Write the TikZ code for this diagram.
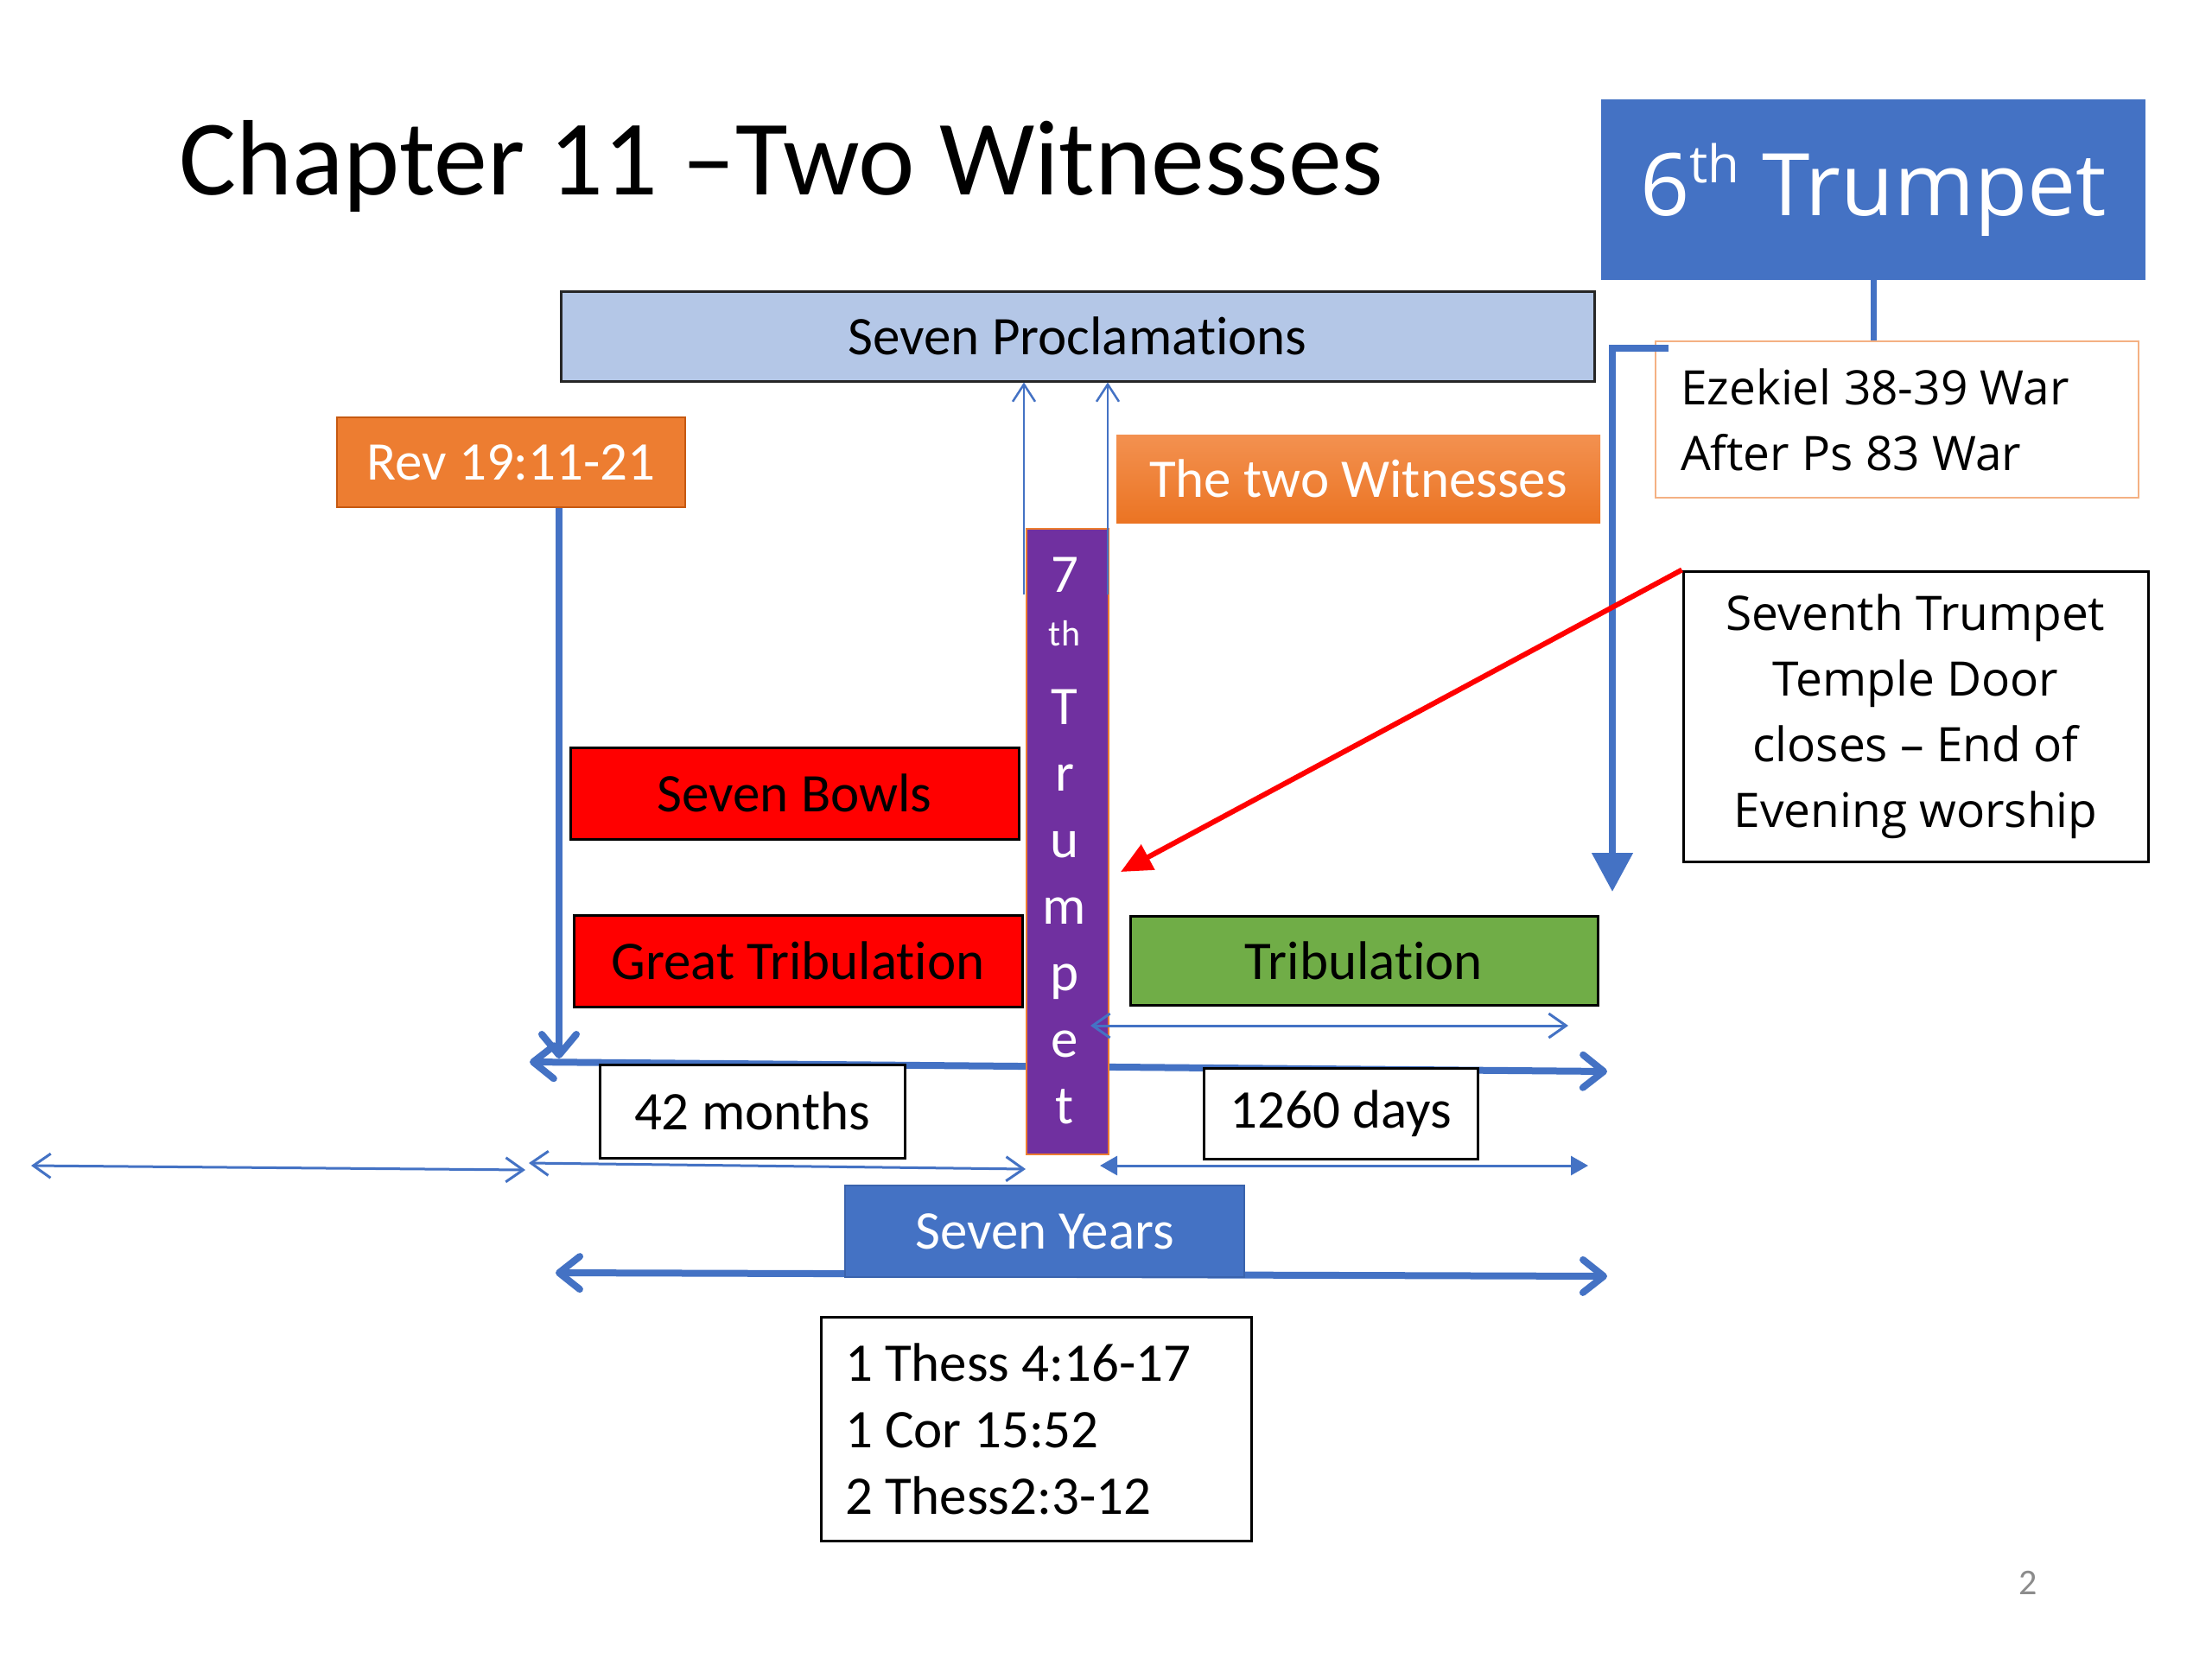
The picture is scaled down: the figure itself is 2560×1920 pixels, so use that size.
\documentclass[tikz,border=0pt]{standalone}
\usepackage{fontspec}
\setmainfont{Carlito}[Ligatures={TeX,NoCommon}]
\newfontfamily\osans{Open Sans}[Ligatures={TeX,NoCommon}]
\usetikzlibrary{arrows.meta}
\definecolor{bl}{HTML}{4472C4}
\definecolor{bldark}{HTML}{3A63AD}
\definecolor{proclfill}{HTML}{B4C7E7}
\definecolor{orfill}{HTML}{ED7D31}
\definecolor{ordraw}{HTML}{C65911}
\definecolor{ortop}{HTML}{F39150}
\definecolor{orbot}{HTML}{EB7423}
\definecolor{ezdraw}{HTML}{F4B183}
\definecolor{purp}{HTML}{7030A0}
\definecolor{grn}{HTML}{70AD47}
\definecolor{pgray}{HTML}{8C8C8C}
\newcommand\mainsz{\fontsize{63}{77}\selectfont}
\newcommand\ossz{\osans\fontsize{55}{76}\selectfont}
\newcommand\natsp{\spaceskip=0pt\xspaceskip=0pt\relax}
\pgfdeclarelayer{bg}
\pgfsetlayers{bg,main}
\begin{document}
\begin{tikzpicture}[x=1pt,y=-1pt,
  box/.style={rectangle, inner sep=0pt, line width=3pt, draw=black, font=\mainsz, align=center},
  tarr/.style={draw=bl, line width=8pt, arrows={Straight Barb[length=24pt,width=38pt,round]-Straight Barb[length=24pt,width=38pt,round]}},
  narr/.style={draw=bl, line width=3pt, arrows={Straight Barb[length=20pt,width=28pt]-Straight Barb[length=20pt,width=28pt]}},
  farr/.style={draw=bl, line width=3pt, arrows={Triangle[length=20pt,width=22pt]-Triangle[length=20pt,width=22pt]}},
  uparr/.style={draw=bl, line width=2.5pt, arrows={-Straight Barb[length=20pt,width=26pt]}},
  letter/.style={anchor=base, text=white, font=\mainsz, inner sep=0pt}]
\useasboundingbox (0,0) rectangle (2560,1920);
\begin{pgfonlayer}{bg}
\fill[white] (0,0) rectangle (2560,1920);
\end{pgfonlayer}

% title
\node[anchor=base west, inner sep=0pt, font=\fontsize{124}{140}\selectfont] (title) at (207,225) {Chapter 11 –Two Witnesses};

% 6th trumpet and Ezekiel
\node[fill=bl, minimum width=630, minimum height=209, inner sep=0pt, text=white,
      font=\osans\fontsize{100}{115}\selectfont] (trump6) at (2168,219.5)
      {6\raisebox{38pt}{\fontsize{60}{62}\selectfont th} Trumpet};
\node[draw=ezdraw, line width=2.5pt, fill=white, minimum width=559, minimum height=181,
      inner xsep=29pt, inner ysep=0pt, text width=501pt, align=left, font=\ossz] (ezek) at (2195.5,485.5)
      {\natsp Ezekiel 38-39 War\\After Ps 83 War};
\draw[bl, line width=7pt] (trump6.south) -- (trump6.south |- ezek.north);
\coordinate (brk) at (1931,403);
\coordinate (brkend) at (1866,1032);
\draw[bl, line width=8pt, -{Triangle[length=45pt,width=46pt]}] (brk) -| (brkend);

% seventh trumpet text box
\node[draw=black, line width=3pt, fill=white, minimum width=538, minimum height=336, inner sep=0pt,
      align=center, font=\ossz] (sev7) at (2217,829)
      {Seventh Trumpet\\Temple Door\\closes – End of\\Evening worship};

% upper boxes
\node[box, fill=proclfill, draw=black!85, minimum width=1196, minimum height=104] (procl) at (1247,389) {Seven Proclamations};
\node[box, fill=orfill, draw=ordraw, line width=2.5pt, text=white, minimum width=403, minimum height=104] (rev) at (591.5,535) {Rev 19:11-21};
\node[box, draw=none, top color=ortop, bottom color=orbot, text=white, minimum width=560, minimum height=102] (wit) at (1572,554) {The two Witnesses};

% event boxes
\node[box, fill=red, minimum width=519, minimum height=106] (bowls) at (919.5,918) {Seven Bowls};
\node[box, fill=red, minimum width=519, minimum height=106] (gtrib) at (923.5,1112) {Great Tribulation};
\node[box, fill=grn, minimum width=541, minimum height=103] (trib) at (1578.5,1111.5) {Tribulation};
\node[box, fill=white, minimum width=353, minimum height=108] (m42) at (870.5,1286) {42 months};
\node[box, fill=white, minimum width=317, minimum height=105] (d1260) at (1552,1288.5) {1260 days};
\node[box, fill=bl, draw=bldark, line width=2.5pt, text=white, minimum width=462, minimum height=106] (years) at (1209,1425) {Seven Years};
\node[box, fill=white, minimum width=498, minimum height=259, inner xsep=28pt, text width=442pt, align=left] (thess) at (1199,1653.5)
      {\natsp 1 Thess 4:16-17\\1 Cor 15:52\\2 Thess2:3-12};

% 7th trumpet column
\node[rectangle, fill=purp, draw=orfill, line width=1.5pt, minimum width=95, minimum height=724, inner sep=0pt] (trump7) at (1235.5,974) {};
\node[letter] (t7) at (1232,685) {7};
\node[letter, font=\fontsize{42}{50}\selectfont] (tth) at (1232,747) {th};
\foreach \c/\b in {T/838,r/915,u/992,m/1069,p/1146,e/1223,t/1300}
  \node[letter] (tl\b) at (1232,\b) {\c};

% coordinates for free ends
\coordinate (revtip) at (647,1225);
\coordinate (tlL) at (613,1229);
\coordinate (tlR) at (1860,1240);
\coordinate (syL) at (643,1473);
\coordinate (syR) at (1860,1477);
\coordinate (r1L) at (36,1349);
\coordinate (r1R) at (608,1354);
\coordinate (r2L) at (612,1346);
\coordinate (r2R) at (1187,1353);
\coordinate (r3L) at (1273,1349);
\coordinate (r3R) at (1838,1349);
\coordinate (r4L) at (1262,1187);
\coordinate (r4R) at (1815,1187);
\coordinate (u1) at (1185,688);
\coordinate (u2) at (1282,688);
\coordinate (redtip) at (1297,1009);

\begin{pgfonlayer}{bg}
\draw[bl, line width=8pt, -{Straight Barb[length=24pt,width=40pt,round]}] ([xshift=55.5pt]rev.south) -- (revtip);
\draw[tarr] (tlL) -- (tlR);
\draw[tarr] (syL) -- (syR);
\draw[narr] (r1L) -- (r1R);
\draw[narr] (r2L) -- (r2R);
\draw[farr] (r3L) -- (r3R);
\end{pgfonlayer}
\draw[narr] (r4L) -- (r4R);
\draw[uparr] (u1) -- (u1 |- procl.south);
\draw[uparr] (u2) -- (u2 |- procl.south);

% red arrow
\draw[red, line width=6pt, -{Triangle[length=36pt,width=32pt]}] (sev7.north west) -- (redtip);

% page number
\node[text=pgray, font=\fontsize{42}{50}\selectfont, inner sep=0pt] (pnum) at (2347,1832) {2};
\end{tikzpicture}
\end{document}
